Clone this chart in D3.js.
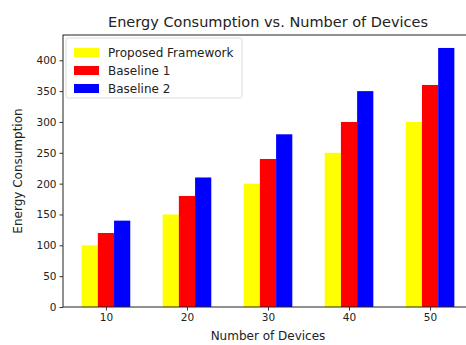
<!DOCTYPE html>
<html>
<head>
<meta charset="utf-8">
<script src="https://cdn.jsdelivr.net/npm/d3@7"></script>
<style>
  body { margin: 0; background: #fff; }
  svg { display: block; font-family: "DejaVu Sans", sans-serif; }
</style>
</head>
<body>
<div id="chart"></div>
<script>
// data
const devices = ["10", "20", "30", "40", "50"];
const seriesNames = ["Proposed Framework", "Baseline 1", "Baseline 2"];
const proposed = [100, 150, 200, 250, 300];
const baseline1 = [120, 180, 240, 300, 360];
const baseline2 = [140, 210, 280, 350, 420];
const yTicks = [0, 50, 100, 150, 200, 250, 300, 350, 400];
const colors = ["#ffff00", "#ff0000", "#0000ff"];

const series = [proposed, baseline1, baseline2];

// the axes box runs past the right edge of the picture (cropped figure)
const W = 466, H = 345;
const margin = { top: 35, left: 63, bottom: 38 };
const plotRight = 473;
const height = H - margin.top - margin.bottom;

const svg = d3
  .select("#chart")
  .append("svg")
  .attr("width", W)
  .attr("height", H);

// x in matplotlib-style units: group i at i, bars of width 0.2
const barW = 0.2;
const x = d3
  .scaleLinear()
  .domain([-0.53, devices.length - 1 + 0.53])
  .range([margin.left, plotRight]);

const y = d3
  .scaleLinear()
  .domain([0, 441])
  .range([margin.top + height, margin.top]);

// bars
series.forEach((vals, s) => {
  svg
    .append("g")
    .selectAll("rect")
    .data(vals)
    .join("rect")
    .attr("x", (d, i) => x(i + (s - 1) * barW - barW / 2))
    .attr("width", x(barW) - x(0))
    .attr("y", (d) => y(d))
    .attr("height", (d) => y(0) - y(d))
    .attr("fill", colors[s]);
});

// frame
svg
  .append("rect")
  .attr("x", margin.left)
  .attr("y", margin.top)
  .attr("width", plotRight - margin.left)
  .attr("height", height)
  .attr("fill", "none")
  .attr("stroke", "#222")
  .attr("stroke-width", 1);

// axes
const xAxis = svg
  .append("g")
  .attr("transform", `translate(0,${y(0)})`)
  .call(
    d3
      .axisBottom(x)
      .tickValues(d3.range(devices.length))
      .tickFormat((i) => devices[i])
      .tickSize(3.5)
      .tickPadding(3)
  );
const yAxis = svg
  .append("g")
  .attr("transform", `translate(${margin.left},0)`)
  .call(d3.axisLeft(y).tickValues(yTicks).tickSize(3.5).tickPadding(3));

[xAxis, yAxis].forEach((g) => {
  g.select(".domain").remove();
  g.selectAll("line").attr("stroke", "#333");
  g.selectAll("text")
    .attr("fill", "#222")
    .style("font-size", "10.5px")
    .style("font-family", "DejaVu Sans, sans-serif");
});

// title and labels
svg
  .append("text")
  .attr("x", (margin.left + plotRight) / 2)
  .attr("y", 27)
  .attr("text-anchor", "middle")
  .style("font-size", "14.5px")
  .attr("fill", "#222")
  .text("Energy Consumption vs. Number of Devices");

svg
  .append("text")
  .attr("x", (margin.left + plotRight) / 2)
  .attr("y", 340)
  .attr("text-anchor", "middle")
  .style("font-size", "12px")
  .attr("fill", "#222")
  .text("Number of Devices");

svg
  .append("text")
  .attr("transform", `translate(22,${margin.top + height / 2}) rotate(-90)`)
  .attr("text-anchor", "middle")
  .style("font-size", "12px")
  .attr("fill", "#222")
  .text("Energy Consumption");

// legend
const legend = svg.append("g").attr("transform", "translate(66,38)");
legend
  .append("rect")
  .attr("width", 176)
  .attr("height", 60)
  .attr("rx", 2)
  .attr("fill", "#fff")
  .attr("fill-opacity", 0.8)
  .attr("stroke", "#ddd");

seriesNames.forEach((name, i) => {
  const row = legend.append("g").attr("transform", `translate(8,${14 + i * 18})`);
  row
    .append("rect")
    .attr("y", -4)
    .attr("width", 25)
    .attr("height", 9)
    .attr("fill", colors[i]);
  row
    .append("text")
    .attr("x", 34)
    .attr("y", 4.5)
    .style("font-size", "12px")
    .attr("fill", "#222")
    .text(name);
});
</script>
</body>
</html>
